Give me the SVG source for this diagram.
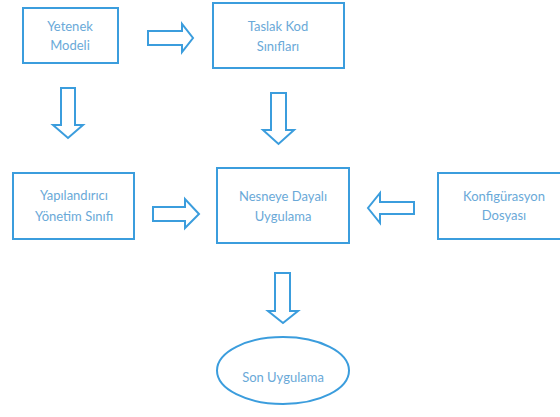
<svg xmlns="http://www.w3.org/2000/svg" width="560" height="417" viewBox="0 0 560 417">
<style>
.box{fill:#fff;stroke:#3b9ddd;stroke-width:2}
.arr{fill:#fff;stroke:#3b9ddd;stroke-width:2;stroke-linejoin:miter}
text{font-family:Lato,"Open Sans",sans-serif;font-size:13px;fill:#6aa9d8;text-anchor:middle}
</style>
<rect width="560" height="417" fill="#fff"/>
<g id="connectors">
<polygon class="arr" points="148,31 182,31 182,24 193,38 182,52 182,45 148,45"/>
<polygon class="arr" points="61,88 75,88 75,125 83,125 68,138 53,125 61,125"/>
<polygon class="arr" points="271,93 286,93 286,130 294,130 278.5,144 263,130 271,130"/>
<polygon class="arr" points="153,207 185,207 185,199 199,214 185,228 185,221 153,221"/>
<polygon class="arr" points="414,202 380,202 380,193 368,208 380,223 380,214 414,214"/>
<polygon class="arr" points="275,273 290,273 290,311 298,311 283,323 268,311 275,311"/>
</g>
<g id="yetenek"><rect class="box" x="23" y="8" width="95" height="55"/><text x="70" y="31">Yetenek</text><text x="70" y="50">Modeli</text></g>
<g id="taslak"><rect class="box" x="213" y="3" width="131" height="65"/><text x="278" y="31">Taslak Kod</text><text x="278" y="51">Sınıfları</text></g>
<g id="yapilandirici"><rect class="box" x="13" y="173" width="121" height="66"/><text x="74" y="200">Yapılandırıcı</text><text x="74" y="221">Yönetim Sınıfı</text></g>
<g id="nesneye"><rect class="box" x="217" y="168" width="132" height="75"/><text x="283" y="201">Nesneye Dayalı</text><text x="283" y="221">Uygulama</text></g>
<g id="konfig"><rect class="box" x="438" y="173" width="125" height="66"/><text x="504" y="201">Konfigürasyon</text><text x="504" y="220">Dosyası</text></g>
<g id="son"><ellipse class="box" cx="283" cy="370.5" rx="66" ry="33.5"/><text x="283" y="382">Son Uygulama</text></g>
</svg>
